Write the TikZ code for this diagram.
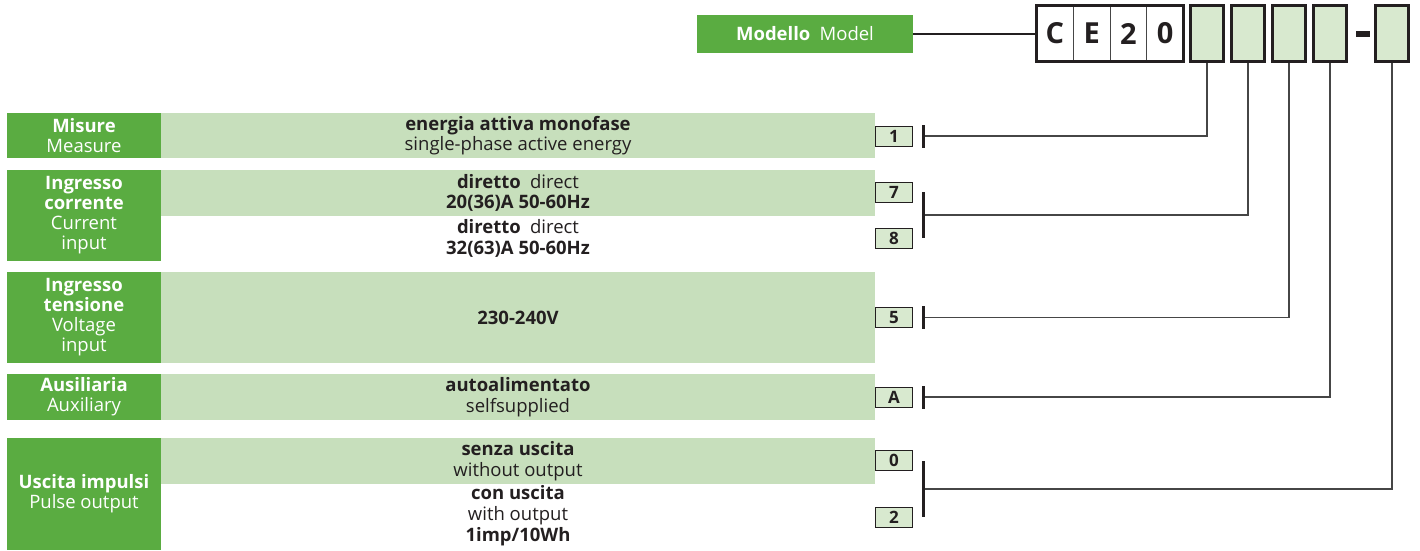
\documentclass[tikz,border=0pt]{standalone}
\usepackage{fontspec}
\setmainfont{Open Sans}
\usepackage{xcolor}
\usepackage{tikz}
\usetikzlibrary{positioning}
\definecolor{mygreen}{RGB}{90,172,65}
\definecolor{mylight}{RGB}{199,223,188}
\definecolor{mypale}{RGB}{216,233,207}
\definecolor{myink}{RGB}{35,31,32}
\definecolor{mywire}{RGB}{70,70,70}

\begin{document}
\begin{tikzpicture}[x=1pt, y=-1pt,
  lab/.style={fill=mygreen, text=white, minimum width=154pt, inner sep=0pt,
    align=center, font=\fontsize{18.5}{20}\selectfont},
  band/.style={fill=mylight, text=myink, minimum width=714pt, inner sep=0pt,
    align=center, font=\fontsize{18.5}{20.5}\selectfont},
  opt/.style={text=myink, align=center, inner sep=0pt, font=\fontsize{18.5}{21}\selectfont},
  code/.style={draw=myink, line width=1pt, fill=mypale, text=myink, minimum width=37pt,
    minimum height=20pt, inner sep=0pt, font=\fontsize{17}{17}\bfseries},
  bar/.style={fill=myink, minimum width=3pt, inner sep=0pt},
  cell/.style={draw=myink, line width=3pt, fill=mypale, minimum width=33pt,
    minimum height=56pt, inner sep=0pt},
  letter/.style={draw=mywire, line width=0.6pt, minimum width=36.75pt, minimum height=56pt,
    inner sep=0pt, outer sep=0pt, text=myink, font=\fontsize{29}{29}\bfseries},
  conn/.style={draw=mywire, line width=1.2pt}]
  \useasboundingbox (0,0) rectangle (1420,550);

  % model code
  \node[lab, minimum width=216pt, minimum height=38pt] (model) at (805,34) {\textbf{Modello}\enspace Model};
  \node[letter] (l1) at (1054.9,33.5) {C};
  \node[letter, right=0pt of l1] (l2) {E};
  \node[letter, right=0pt of l2] (l3) {2};
  \node[letter, right=0pt of l3] (l4) {0};
  \draw[myink, line width=3pt] (l1.north west) rectangle (l4.south east);
  \draw[myink, line width=1.8pt] (model.east) -- (model.east -| l1.west);

  \node[cell] (c1) at (1207,33.5) {};
  \node[cell] (c2) at (1248,33.5) {};
  \node[cell] (c3) at (1289,33.5) {};
  \node[cell] (c4) at (1330,33.5) {};
  \node[fill=myink, minimum width=14pt, minimum height=6pt, inner sep=0pt] (dash) at (1363,34) {};
  \node[cell] (c5) at (1392,33.5) {};

  % measure
  \node[lab, minimum height=45pt] (misL) at (84,135.5) {\textbf{Misure}\\Measure};
  \node[band, minimum height=45pt] (misB) at (518,135.5) {\textbf{energia attiva monofase}\\single-phase active energy};
  \node[code] (k1) at (894,136) {1};
  \node[bar, minimum height=23pt] (bar1) at (923,136) {};

  % current input
  \node[lab, minimum height=91pt] (curL) at (84,215.5) {\textbf{Ingresso}\\\textbf{corrente}\\Current\\input};
  \node[band, minimum height=46pt] (curB) at (518,193) {\textbf{diretto}\enspace direct\\\textbf{20(36)A 50-60Hz}};
  \node[opt] (curO) at (518,238) {\textbf{diretto}\enspace direct\\\textbf{32(63)A 50-60Hz}};
  \node[code] (k7) at (894,192.5) {7};
  \node[code] (k8) at (894,238) {8};
  \node[bar, minimum height=46pt] (bar2) at (923,215) {};

  % voltage input
  \node[lab, minimum height=91pt] (volL) at (84,317.5) {\textbf{Ingresso}\\\textbf{tensione}\\Voltage\\input};
  \node[band, minimum height=91pt] (volB) at (518,317.5) {\textbf{230-240V}};
  \node[code] (k5) at (894,317.5) {5};
  \node[bar, minimum height=23pt] (bar3) at (923,317.5) {};

  % auxiliary
  \node[lab, minimum height=46pt] (auxL) at (84,397) {\textbf{Ausiliaria}\\Auxiliary};
  \node[band, minimum height=46pt] (auxB) at (518,397) {\textbf{autoalimentato}\\selfsupplied};
  \node[code] (kA) at (894,397) {A};
  \node[bar, minimum height=23pt] (bar4) at (923,397) {};

  % pulse output
  \node[lab, minimum height=112pt] (outL) at (84,494) {\textbf{Uscita impulsi}\\Pulse output};
  \node[band, minimum height=46pt] (outB) at (518,461) {\textbf{senza uscita}\\without output};
  \node[opt] (outO) at (518,516) {\textbf{con uscita}\\with output\\\textbf{1imp/10Wh}};
  \node[code] (k0) at (894,460.5) {0};
  \node[code] (k2) at (894,517.5) {2};
  \node[bar, minimum height=56pt] (bar5) at (923,489) {};

  % connectors
  \draw[conn] (bar1.east) -| (c1.south);
  \draw[conn] (bar2.east) -| (c2.south);
  \draw[conn] (bar3.east) -| (c3.south);
  \draw[conn] (bar4.east) -| (c4.south);
  \draw[conn] (bar5.east) -| (c5.south);
\end{tikzpicture}
\end{document}
